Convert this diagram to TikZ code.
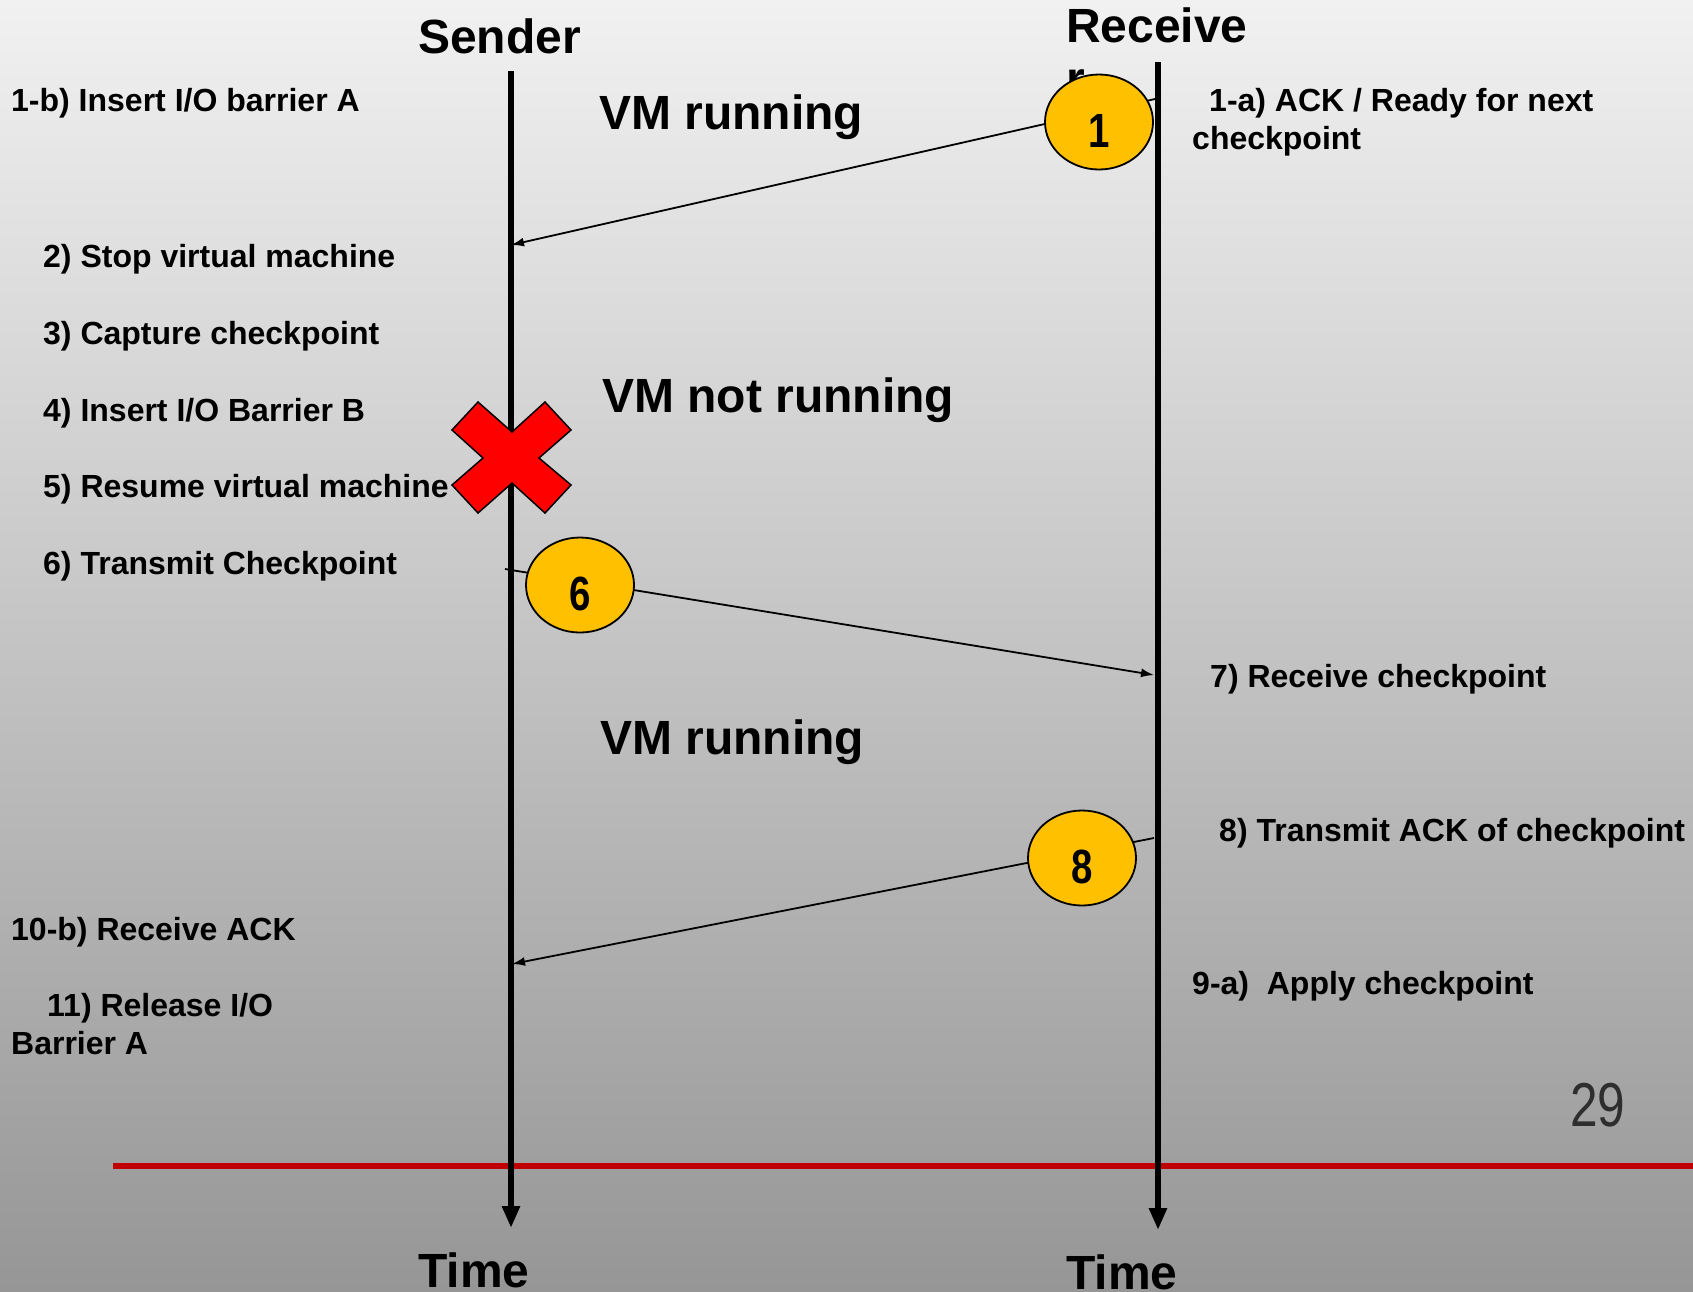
\documentclass[tikz,border=0pt]{standalone}
\usepackage{fontspec}
\setmainfont{Liberation Sans}
\usetikzlibrary{arrows.meta,shapes.geometric}
\definecolor{bgtop}{HTML}{F1F1F1}
\definecolor{bgmid}{HTML}{C9C9C9}
\definecolor{bgbot}{HTML}{969696}
\definecolor{markerfill}{HTML}{FFC000}
\definecolor{crossred}{HTML}{FF0000}
\definecolor{rulered}{HTML}{C00000}
\definecolor{pagenum}{HTML}{2E2E2E}
% condensed digit, sitting a little below the marker centre
\newcommand{\markdigit}[1]{\raisebox{-25pt}[0pt][0pt]{\scalebox{0.8}[1]{#1}}}

\begin{document}
\begin{tikzpicture}[x=1pt,y=-1pt,
  heading/.style={font=\fontsize{48}{52}\selectfont\bfseries, inner sep=0pt, anchor=base west},
  note/.style={font=\fontsize{32}{38}\selectfont\bfseries, inner sep=0pt, anchor=base west},
  lifeline/.style={line width=6pt, -{Triangle[length=22pt,width=17pt]}},
  msg/.style={line width=1.8pt, -{Latex[length=13pt,width=9pt]}},
  marker/.style={ellipse, draw=black, line width=1.8pt, fill=markerfill,
    minimum width=108pt, minimum height=95pt, inner sep=0pt,
    font=\fontsize{48}{48}\selectfont\bfseries},
]
% page and background
\useasboundingbox (0,0) rectangle (1693,1291);
\shade[top color=bgtop, middle color=bgmid, bottom color=bgbot] (0,0) rectangle (1693,1291);

% footer rule and page number
\coordinate (ruleL) at (113,1166);
\coordinate (ruleR) at (1693,1166);
\draw[rulered, line width=5.5pt] (ruleL) -- (ruleR);
\node[font=\fontsize{62}{62}\selectfont, text=pagenum, inner sep=0pt, anchor=base west]
  (page) at (1570,1126) {\scalebox{0.8}[1]{29}};

% lifelines
\coordinate (sTop) at (511,71);
\coordinate (sBot) at (511,1228);
\coordinate (rTop) at (1158,62);
\coordinate (rBot) at (1158,1230);
\draw[lifeline] (sTop) -- (sBot);
\draw[lifeline] (rTop) -- (rBot);

% party names and time labels
\node[heading] (sender) at (418,53) {Sender};
\node[heading] (recv1) at (1066,42) {Receive};
\node[heading] (recv2) at (1066,95) {r};
\node[heading] (timeS) at (418,1287) {Time};
\node[heading] (timeR) at (1066,1289) {Time};

% phase labels
\node[heading] (run1) at (599,129) {VM running};
\node[heading] (stop) at (602,412) {VM not running};
\node[heading] (run2) at (600,754) {VM running};

% message end points on the lifelines
\coordinate (m1from) at (1155,99);
\coordinate (m1to) at (511,245);
\coordinate (m6from) at (505,569);
\coordinate (m6to) at (1154,675);
\coordinate (m8from) at (1154,838);
\coordinate (m8to) at (512,964);
\draw[msg] (m1from) -- (m1to);
\draw[msg] (m6from) -- (m6to);
\draw[msg] (m8from) -- (m8to);

% numbered markers
\node[marker] (c1) at (1099,122) {\markdigit{1}};
\node[marker] (c6) at (580,585) {\markdigit{6}};
\node[marker] (c8) at (1082,858) {\markdigit{8}};

% red cross over the sender lifeline
\draw[fill=crossred, draw=black, line width=1.5pt]
  (512,432) -- (545,402) -- (571,430) -- (539,458) -- (571,485) -- (545,513)
  -- (512,483) -- (478,513) -- (452,485) -- (483,458) -- (452,430) -- (478,402) -- cycle;

% step notes, sender side
\node[note] (n1b) at (11,111) {1-b) Insert I/O barrier A};
\node[note] (n2) at (43,267) {2) Stop virtual machine};
\node[note] (n3) at (43,344) {3) Capture checkpoint};
\node[note] (n4) at (43,421) {4) Insert I/O Barrier B};
\node[note] (n5) at (43,497) {5) Resume virtual machine};
\node[note] (n6) at (43,574) {6) Transmit Checkpoint};
\node[note] (n10) at (11,940) {10-b) Receive ACK};
\node[note] (n11a) at (47,1016) {11) Release I/O};
\node[note] (n11b) at (11,1054) {Barrier A};

% step notes, receiver side
\node[note] (n1a) at (1209,111) {1-a) ACK / Ready for next};
\node[note] (n1a2) at (1192,149) {checkpoint};
\node[note] (n7) at (1210,687) {7) Receive checkpoint};
\node[note] (n8) at (1219,841) {8) Transmit ACK of checkpoint};
\node[note] (n9) at (1192,994) {9-a)\ \ Apply checkpoint};
\end{tikzpicture}
\end{document}
